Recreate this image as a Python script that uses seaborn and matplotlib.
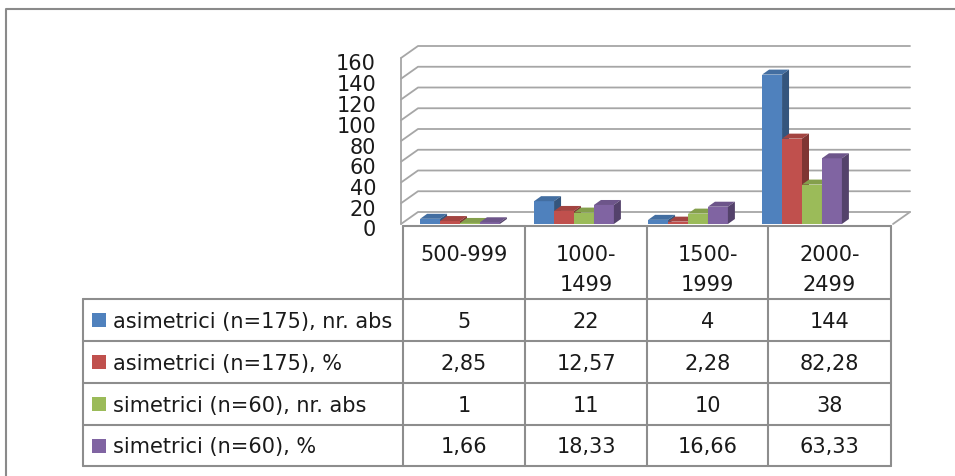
import matplotlib
matplotlib.use("Agg")
import matplotlib.pyplot as plt
from matplotlib.patches import Polygon, Rectangle
from matplotlib.lines import Line2D
from matplotlib.transforms import ScaledTranslation
import matplotlib.colors as mcolors
import seaborn as sns
import pandas as pd
import numpy as np

# data
categories = ["500-999", "1000-\n1499", "1500-\n1999", "2000-\n2499"]
series = ["asimetrici (n=175), nr. abs", "asimetrici (n=175), %",
          "simetrici (n=60), nr. abs", "simetrici (n=60), %"]
asim_abs = [5, 22, 4, 144]
asim_pct = [2.85, 12.57, 2.28, 82.28]
sim_abs = [1, 11, 10, 38]
sim_pct = [1.66, 18.33, 16.66, 63.33]
yticks = [0, 20, 40, 60, 80, 100, 120, 140, 160]
colors = ["#4F81BD", "#C0504D", "#9BBB59", "#8064A2"]

values = [asim_abs, asim_pct, sim_abs, sim_pct]
df = pd.DataFrame([(c, s, v[i]) for s, v in zip(series, values)
                   for i, c in enumerate(categories)],
                  columns=["cat", "series", "val"])

sns.set_style("white")
plt.rcParams['font.family'] = ['DejaVu Sans']
W, H = 955, 477
fig = plt.figure(figsize=(W / 100, H / 100), dpi=100)

# background layer in pixel coords (frame, table)
ov = fig.add_axes([0, 0, 1, 1], zorder=0)
ov.set_xlim(0, W)
ov.set_ylim(H, 0)
ov.axis("off")

# plot area (front plane): x 401..893 px, y 225 (0) .. 59 (160) px
x0p, x1p, y0p, y1p = 401, 893, 225, 59
ax = fig.add_axes([x0p / W, (H - y0p) / H, (x1p - x0p) / W, (y0p - y1p) / H], zorder=1)
ax.patch.set_alpha(0)

sns.barplot(data=df, x="cat", y="val", hue="series", order=categories,
            hue_order=series, palette=colors, width=0.7, saturation=1,
            errorbar=None, legend=False, ax=ax, linewidth=0)

ax.set_xlim(-(460 - x0p) / 114, 3 + (x1p - 802) / 114)
ax.set_ylim(0, 160)
sns.despine(ax=ax, left=True, bottom=True)
ax.set_xlabel("")
ax.set_ylabel("")
ax.set_yticks(yticks)
ax.set_yticklabels([str(t) for t in yticks], fontsize=15, color="#1a1a1a")
ax.tick_params(axis="y", length=0, pad=18)
ax.tick_params(axis="x", length=0, labelbottom=False)
for lbl in ax.get_yticklabels():
    lbl.set_transform(lbl.get_transform() + ScaledTranslation(0, -3.5 / 100, fig.dpi_scale_trans))

disp = ax.transData
inv = disp.inverted()


def shift(x, y, dxp, dyp):
    X, Y = disp.transform((x, y))
    return inv.transform((X + dxp, Y + dyp))


grid_c = "#a6a6a6"
DX, DY = 17, 12
xl, xr = ax.get_xlim()
# walls: side wall edge, diagonals and back gridlines
ax.add_line(Line2D([xl, xl], [0, 160], color=grid_c, lw=1.3, clip_on=False, zorder=1))
for t in yticks:
    bx, by = shift(xl, t, DX, DY)
    ex, _ = shift(xr, t, DX, DY)
    ax.add_line(Line2D([xl, bx, ex], [t, by, by], color=grid_c, lw=1.3,
                       clip_on=False, zorder=1))
# floor right edge
fx, fy = shift(xr, 0, DX, DY)
ax.add_line(Line2D([xr, fx], [0, fy], color=grid_c, lw=1.3, clip_on=False, zorder=1))

# 3D faces on the bars
bdx, bdy = 7, 5
bars = sorted(ax.patches, key=lambda p: p.get_x())
for k, p in enumerate(bars):
    z = 3 + k * 0.01
    p.set_zorder(z)
    rgb = np.array(mcolors.to_rgb(p.get_facecolor()))
    bx0 = p.get_x()
    bx1 = bx0 + p.get_width()
    h = p.get_height()
    a = shift(bx0, h, bdx, bdy)
    b = shift(bx1, h, bdx, bdy)
    c = shift(bx1, 0, bdx, bdy)
    top = Polygon([(bx0, h), (bx1, h), tuple(b), tuple(a)], closed=True,
                  facecolor=rgb * 0.85, edgecolor="none", zorder=z + 0.001, clip_on=False)
    side = Polygon([(bx1, 0), (bx1, h), tuple(b), tuple(c)], closed=True,
                   facecolor=rgb * 0.66, edgecolor="none", zorder=z + 0.002, clip_on=False)
    ax.add_patch(top)
    ax.add_patch(side)

# outer frame
frame_c = "#8a8a8a"
ov.plot([6, 6, W + 5], [H + 5, 10, 10], color=frame_c, lw=1.5)

# data table
line_c = "#8d8d8d"
cols = [403, 525, 647, 768, 891]
label_left = 83
hdr_top = 227
rows = [300, 342, 384, 426, 467]
lw = 1.5
for cx in cols:
    ov.plot([cx, cx], [hdr_top, rows[-1]], color=line_c, lw=lw)
ov.plot([label_left, label_left], [rows[0], rows[-1]], color=line_c, lw=lw)
ov.plot([cols[0], cols[-1]], [hdr_top, hdr_top], color=line_c, lw=lw)
for ry in rows:
    ov.plot([label_left, cols[-1]], [ry, ry], color=line_c, lw=lw)

txt_c = "#1a1a1a"
for j, cat in enumerate(categories):
    cx = (cols[j] + cols[j + 1]) / 2
    ov.text(cx, 245, cat, ha="center", va="top", fontsize=15, color=txt_c,
            linespacing=1.65)

for i, (s, vals) in enumerate(zip(series, values)):
    cy = (rows[i] + rows[i + 1]) / 2
    ov.add_patch(Rectangle((92, cy - 7), 14, 14, facecolor=colors[i], edgecolor="none"))
    ov.text(113, cy + 1, s, ha="left", va="center", fontsize=15, color=txt_c)
    for j, v in enumerate(vals):
        cx = (cols[j] + cols[j + 1]) / 2
        ov.text(cx, cy + 1, f"{v:g}".replace(".", ","), ha="center", va="center",
                fontsize=15, color=txt_c)

fig.savefig("out.png", dpi=100)
